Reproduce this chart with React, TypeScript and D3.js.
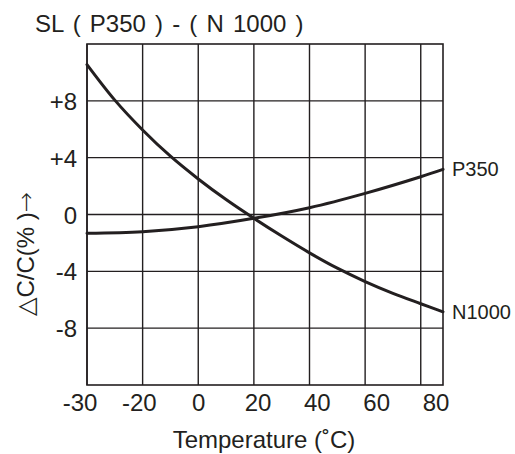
import { curveCatmullRom, line, scaleLinear, scalePoint, select } from "d3";
import React, { useEffect, useRef } from "react";

// values (temperature in °C, ΔC/C in %)
const n1000Temp = [-40, -30, -20, -10, 0, 10, 20, 30, 40, 50, 60, 70, 80, 88];
const n1000Value = [10.55, 8.05, 5.95, 4.1, 2.5, 1.05, -0.27, -1.52, -2.7, -3.78, -4.72, -5.55, -6.28, -6.85];
const p350Temp = [-40, -20, 0, 20, 40, 60, 80, 88];
const p350Value = [-1.32, -1.21, -0.86, -0.27, 0.48, 1.49, 2.66, 3.18];

const gridTemps = [-40, -20, 0, 20, 40, 60, 80];
const gridValues = [8, 4, 0, -4, -8];
const xTickLabels = ["-30", "-20", "0", "20", "40", "60", "80"];
const yTickLabels = ["+8", "+4", "0", "-4", "-8"];

const FONT = "'Liberation Sans', Arial, sans-serif";
const INK = "#231f20";

const App: React.FC = () => {
    const svgRef = useRef<SVGSVGElement>(null);

    useEffect(() => {
        if (!svgRef.current) return;
        svgRef.current.innerHTML = "";

        const left = 87,
            right = 443,
            top = 44,
            bottom = 385;

        const xScale = scaleLinear().domain([-40, 88]).range([left, right]);
        const yScale = scaleLinear().domain([-12, 12]).range([bottom, top]);
        const xLabelScale = scalePoint<string>()
            .domain(xTickLabels)
            .range([80, 436]);

        const svg = select(svgRef.current);

        svg.append("rect")
            .attr("width", 515)
            .attr("height", 454)
            .attr("fill", "#fff");

        // grid
        svg.append("g")
            .selectAll("line")
            .data(gridTemps)
            .enter()
            .append("line")
            .attr("x1", d => xScale(d))
            .attr("x2", d => xScale(d))
            .attr("y1", top)
            .attr("y2", bottom)
            .attr("stroke", INK)
            .attr("stroke-width", 1.4);

        svg.append("g")
            .selectAll("line")
            .data(gridValues)
            .enter()
            .append("line")
            .attr("x1", left)
            .attr("x2", right)
            .attr("y1", d => yScale(d))
            .attr("y2", d => yScale(d))
            .attr("stroke", INK)
            .attr("stroke-width", 1.4);

        svg.append("rect")
            .attr("x", left)
            .attr("y", top)
            .attr("width", right - left)
            .attr("height", bottom - top)
            .attr("fill", "none")
            .attr("stroke", INK)
            .attr("stroke-width", 1.6);

        // curves
        const curve = line<[number, number]>()
            .x(d => xScale(d[0]))
            .y(d => yScale(d[1]))
            .curve(curveCatmullRom.alpha(0.5));

        const series = [
            { temps: n1000Temp, values: n1000Value, name: "N1000" },
            { temps: p350Temp, values: p350Value, name: "P350" },
        ];

        series.forEach(s => {
            const pts = s.temps.map((t, i) => [t, s.values[i]] as [number, number]);
            svg.append("path")
                .datum(pts)
                .attr("fill", "none")
                .attr("stroke", INK)
                .attr("stroke-width", 3)
                .attr("stroke-linecap", "round")
                .attr("d", curve);

            const last = pts[pts.length - 1];
            svg.append("text")
                .attr("x", xScale(last[0]) + 9)
                .attr("y", yScale(last[1]) + 7)
                .attr("font-family", FONT)
                .attr("font-size", 20)
                .attr("fill", INK)
                .text(s.name);
        });

        // tick labels
        svg.append("g")
            .selectAll("text")
            .data(xTickLabels)
            .enter()
            .append("text")
            .attr("x", d => xLabelScale(d)!)
            .attr("y", 411)
            .attr("text-anchor", "middle")
            .attr("font-family", FONT)
            .attr("font-size", 24)
            .attr("fill", INK)
            .text(d => d);

        svg.append("g")
            .selectAll("text")
            .data(gridValues)
            .enter()
            .append("text")
            .attr("x", 77)
            .attr("y", d => yScale(d) + 9)
            .attr("text-anchor", "end")
            .attr("font-family", FONT)
            .attr("font-size", 24)
            .attr("fill", INK)
            .text((d, i) => yTickLabels[i]);

        // titles
        svg.append("text")
            .attr("x", 35)
            .attr("y", 32)
            .attr("font-family", FONT)
            .attr("font-size", 24)
            .attr("word-spacing", 2.5)
            .attr("fill", INK)
            .text("SL ( P350 ) - ( N 1000 )");

        svg.append("text")
            .attr("x", 264)
            .attr("y", 448)
            .attr("text-anchor", "middle")
            .attr("font-family", FONT)
            .attr("font-size", 24)
            .attr("fill", INK)
            .text("Temperature (˚C)");

        const yTitle = svg
            .append("text")
            .attr("transform", "translate(34,254) rotate(-90)")
            .attr("text-anchor", "middle")
            .attr("font-family", FONT)
            .attr("font-size", 24)
            .attr("fill", INK);
        yTitle.append("tspan").attr("font-family", "'DejaVu Sans'").text("△");
        yTitle.append("tspan").text("C/C(% )");
        yTitle
            .append("tspan")
            .attr("font-family", "'DejaVu Sans'")
            .attr("font-weight", 200)
            .text("→");
    }, []);

    return (
        <svg
            ref={svgRef}
            width={515}
            height={454}
            style={{ position: "absolute", left: 0, top: 0 }}
        ></svg>
    );
};

export default App;
